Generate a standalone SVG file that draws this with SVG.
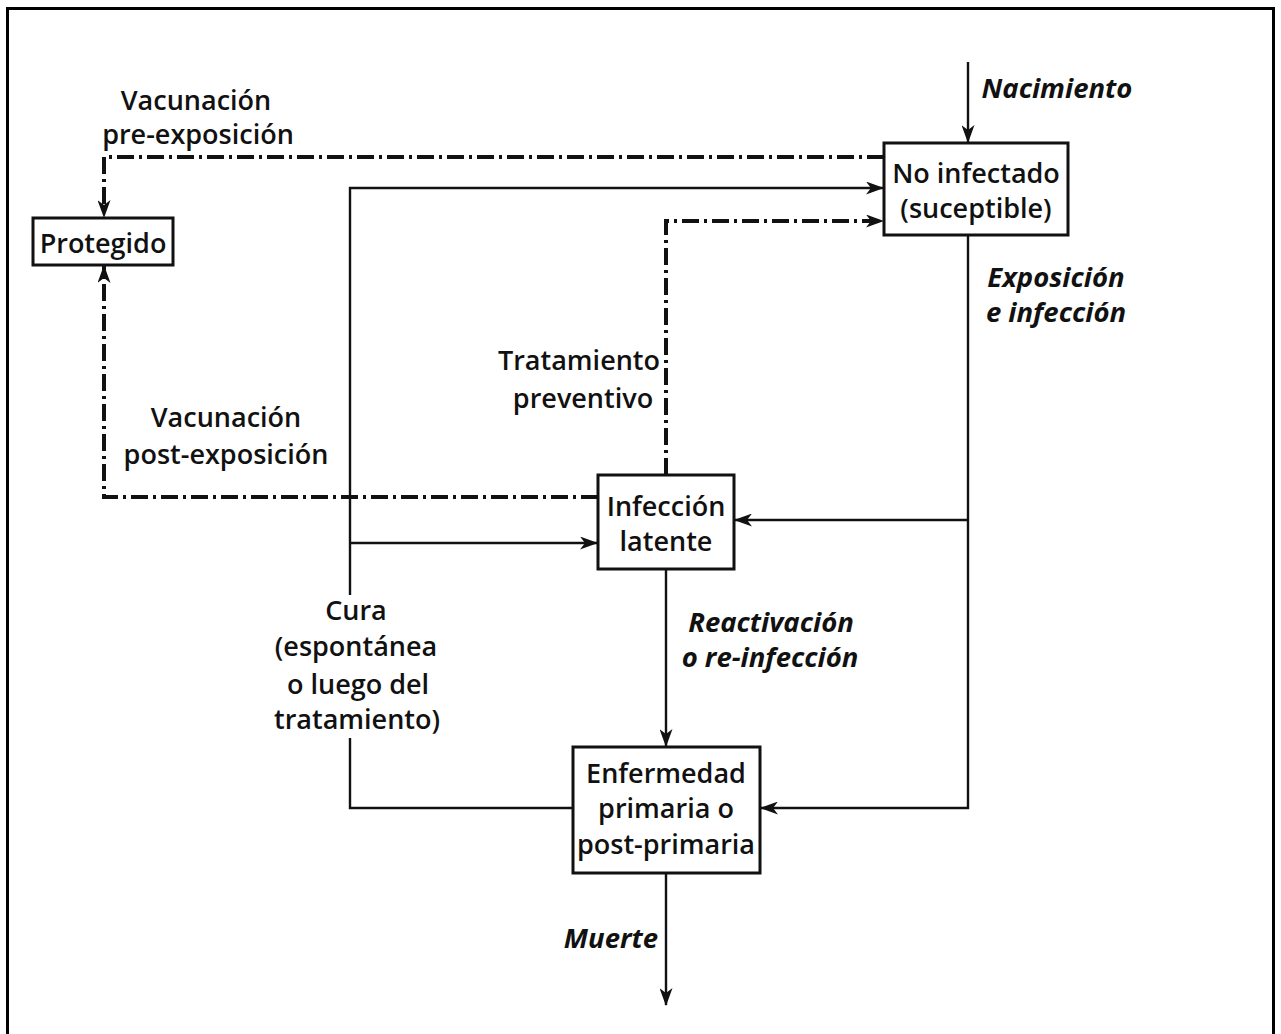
<svg xmlns="http://www.w3.org/2000/svg" width="1281" height="1034" viewBox="0 0 1281 1034">
<style>
text{font-family:"Open Sans","Noto Sans","Liberation Sans",sans-serif;font-weight:600;font-size:27px;fill:#111;text-anchor:middle;dominant-baseline:central}
.it{font-style:italic;font-weight:700;font-size:27.5px}
.box{fill:#fff;stroke:#111;stroke-width:3}
.sl{fill:none;stroke:#111;stroke-width:2.4}
.dd{fill:none;stroke:#111;stroke-width:4;stroke-dasharray:17 5 3 5}
</style>
<defs>
<marker id="ah" markerUnits="userSpaceOnUse" viewBox="0 0 18 13" refX="17" refY="6.5" markerWidth="18" markerHeight="13" orient="auto">
<path d="M0,0 L18,6.5 L0,13 L5,6.5 z" fill="#111"/>
</marker>
</defs>
<rect width="1281" height="1034" fill="#fff"/>
<path d="M7.5,1034 V8.5 H1273.5 V1034" fill="none" stroke="#000" stroke-width="3"/>
<g id="connectors">
<path class="dd" d="M884,157 H104 V217" marker-end="url(#ah)"/>
<path class="dd" d="M666,475 V221 H883" marker-end="url(#ah)"/>
<path class="dd" d="M598,497 H104 V266" marker-end="url(#ah)"/>
<path class="sl" d="M968,62 V142" marker-end="url(#ah)"/>
<path class="sl" d="M968,235 V808 H761" marker-end="url(#ah)"/>
<path class="sl" d="M968,520 H735" marker-end="url(#ah)"/>
<path class="sl" d="M573,808 H350 V738"/>
<path class="sl" d="M350,595 V188 H883" marker-end="url(#ah)"/>
<path class="sl" d="M350,543 H597" marker-end="url(#ah)"/>
<path class="sl" d="M666,569 V746" marker-end="url(#ah)"/>
<path class="sl" d="M666,873 V1005" marker-end="url(#ah)"/>
</g>
<g id="labels">
<text x="196" y="99">Vacunación</text>
<text x="198" y="133">pre-exposición</text>
<text x="226" y="416">Vacunación</text>
<text x="226" y="453">post-exposición</text>
<text x="579" y="359">Tratamiento</text>
<text x="583" y="397">preventivo</text>
<text x="356" y="609">Cura</text>
<text x="356" y="645">(espontánea</text>
<text x="358" y="683">o luego del</text>
<text x="357" y="718">tratamiento)</text>
<text class="it" x="1057" y="87">Nacimiento</text>
<text class="it" x="1056" y="276">Exposición</text>
<text class="it" x="1056" y="311">e infección</text>
<text class="it" x="771" y="621">Reactivación</text>
<text class="it" x="770" y="656">o re-infección</text>
<text class="it" x="611" y="937">Muerte</text>
</g>
<g id="node-no-infectado">
<rect class="box" x="884" y="143" width="184" height="92"/>
<text x="976" y="172">No infectado</text>
<text x="976" y="207">(suceptible)</text>
</g>
<g id="node-protegido">
<rect class="box" x="33" y="218" width="140" height="47"/>
<text x="103" y="242">Protegido</text>
</g>
<g id="node-infeccion-latente">
<rect class="box" x="598" y="475" width="136" height="94"/>
<text x="666" y="505">Infección</text>
<text x="666" y="540">latente</text>
</g>
<g id="node-enfermedad">
<rect class="box" x="573" y="747" width="187" height="126"/>
<text x="666" y="772">Enfermedad</text>
<text x="666" y="807">primaria o</text>
<text x="666" y="843">post-primaria</text>
</g>
</svg>
